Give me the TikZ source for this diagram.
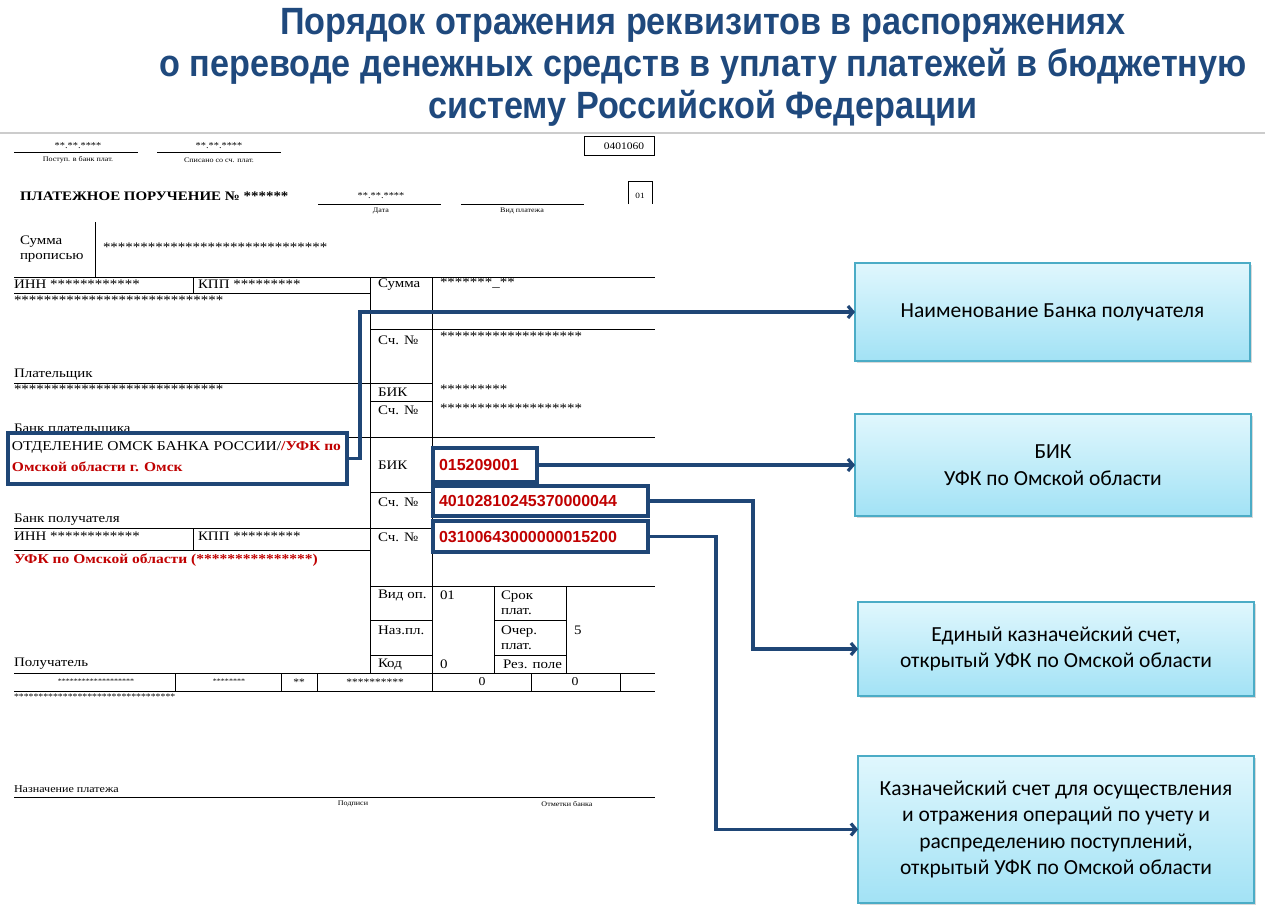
\documentclass[tikz,border=0pt]{standalone}
\usepackage{fontspec}
\setmainfont{Liberation Serif}[FakeStretch=1.15]
\newfontfamily\titlefont[FakeStretch=0.9]{Liberation Sans}
\newfontfamily\notefont{Carlito}
\newfontfamily\numfont{Liberation Sans}
\usetikzlibrary{arrows.meta,shadows}
\definecolor{titleblue}{RGB}{31,73,125}
\definecolor{frameblue}{RGB}{31,70,118}
\definecolor{formred}{RGB}{192,0,0}
\definecolor{noteedge}{RGB}{75,172,198}
\definecolor{notetop}{RGB}{224,247,253}
\definecolor{notebot}{RGB}{162,226,245}
\begin{document}
\begin{tikzpicture}[x=1pt, y=-1pt, inner sep=0pt, outer sep=0pt,
  lab/.style={anchor=west, font=\fontsize{13}{15.5}\selectfont},
  small/.style={anchor=center, font=\fontsize{7}{8}\selectfont},
  rule/.style={draw=black, line width=1pt},
  frame/.style={draw=frameblue, line width=3.4pt, fill=white},
  redbox/.style={frame, text=formred, align=left, inner xsep=6pt,
    font=\numfont\bfseries\fontsize{16}{18}\selectfont},
  redtext/.style={lab, text=formred, font=\bfseries\fontsize{13.5}{16}\selectfont},
  note/.style={draw=noteedge, line width=1.4pt, top color=notetop, bottom color=notebot,
    align=center, font=\notefont\fontsize{21.5}{26.5}\selectfont,
    drop shadow={shadow xshift=2pt, shadow yshift=-2pt, opacity=0.3}},
  link/.style={draw=frameblue, line width=3.2pt, -{Straight Barb[length=5pt,width=12pt]}}]
\useasboundingbox (0,0) rectangle (1265,920);
\node[text=titleblue, align=center, font=\titlefont\bfseries\fontsize{38}{42}\selectfont] (title) at (703,67)
  {Порядок отражения реквизитов в распоряжениях\\о переводе денежных средств в уплату платежей в бюджетную\\систему Российской Федерации};
\draw[draw=black!20, line width=2pt] (0,133) -- (1265,133);
% шапка бланка
\node[small, font=\fontsize{9}{10}\selectfont] (dt1) at (78,146) {**.**.****};
\draw[rule] (14,153) -- (138,153);
\node[small] (dt1lab) at (78,160) {Поступ. в банк плат.};
\node[small, font=\fontsize{9}{10}\selectfont] (dt2) at (219,146) {**.**.****};
\draw[rule] (157,153) -- (281,153);
\node[small] (dt2lab) at (219,160) {Списано со сч. плат.};
\node[draw, line width=1pt, minimum width=70, minimum height=19, font=\fontsize{10}{12}\selectfont, align=right] (form) at (619,146) {\hspace*{10pt}0401060};
\node[lab, font=\bfseries\fontsize{13}{15}\selectfont] (head) at (20,196) {ПЛАТЕЖНОЕ ПОРУЧЕНИЕ № ******};
\node[small, font=\fontsize{9}{10}\selectfont] (dt3) at (381,196) {**.**.****};
\draw[rule] (318,204) -- (441,204);
\node[small] (dt3lab) at (381,211) {Дата};
\draw[rule] (461,204) -- (584,204);
\node[small] (vidlab) at (522,211) {Вид платежа};
\draw[rule] (628,204) -- (628,182) -- (652,182) -- (652,204);
\node[small, font=\fontsize{8}{9}\selectfont] (status) at (640,196) {01};
% сумма прописью
\node[lab, align=left] (sumw) at (20,249) {Сумма\\прописью};
\draw[rule] (95,222) -- (95,277);
\node[lab] (sumwv) at (103,247) {******************************};
% сетка
\draw[rule] (14,277) -- (655,277);
\draw[rule] (370,277) -- (370,673);
\draw[rule] (432,277) -- (432,691);
\draw[rule] (193,277) -- (193,293);
\draw[rule] (14,293) -- (370,293);
\draw[rule] (370,329) -- (655,329);
\draw[rule] (14,383) -- (432,383);
\draw[rule] (370,401) -- (432,401);
\draw[rule] (14,437) -- (655,437);
\draw[rule] (370,492) -- (432,492);
\draw[rule] (14,528) -- (432,528);
\draw[rule] (193,528) -- (193,550);
\draw[rule] (14,550) -- (370,550);
\draw[rule] (370,586) -- (655,586);
\draw[rule] (494,586) -- (494,673);
\draw[rule] (566,586) -- (566,673);
\draw[rule] (370,620) -- (432,620) (494,620) -- (566,620);
\draw[rule] (370,655) -- (432,655) (494,655) -- (566,655);
\draw[rule] (14,673) -- (655,673);
\foreach \xx in {175,281,317,531,620}
  \draw[rule] (\xx,673) -- (\xx,691);
\draw[rule] (14,691) -- (655,691);
\draw[rule] (14,797) -- (655,797);
% плательщик
\node[lab] (inn1) at (14,284) {ИНН ************};
\node[lab] (kpp1) at (198,284) {КПП *********};
\node[lab] (payer) at (14,300) {****************************};
\node[lab] (summa) at (378,285) {Сумма};
\node[lab] (summav) at (440,283) {*******\_**};
\node[lab] (acc1) at (378,340) {Сч. №};
\node[lab] (acc1v) at (440,336) {*******************};
\node[lab] (payerlab) at (14,375) {Плательщик};
\node[lab] (pbank) at (14,389) {****************************};
\node[lab] (bik1) at (378,392) {БИК};
\node[lab] (bik1v) at (440,389) {*********};
\node[lab] (acc2) at (378,410) {Сч. №};
\node[lab] (acc2v) at (440,408) {*******************};
\node[lab] (pbanklab) at (14,430) {Банк плательщика};
% банк получателя
\node[frame, minimum width=339, minimum height=51] (bank) at (177.5,458.5) {};
\node[lab, font=\fontsize{13.5}{16}\selectfont] (bankl1) at (12,447) {ОТДЕЛЕНИЕ ОМСК БАНКА РОССИИ/\textcolor{formred}{\bfseries/УФК по}};
\node[redtext] (bankl2) at (12,467) {Омской области г. Омск};
\node[lab] (bik2) at (378,465) {БИК};
\node[redbox, minimum height=34, text width=92] (bik) at (485,465) {015209001};
\node[lab] (acc3) at (378,502) {Сч. №};
\node[redbox, minimum height=30, text width=203] (ekc) at (540.5,501) {40102810245370000044};
\node[lab] (rbanklab) at (14,520) {Банк получателя};
\node[lab] (inn2) at (14,536) {ИНН ************};
\node[lab] (kpp2) at (198,536) {КПП *********};
\node[lab] (acc4) at (378,537) {Сч. №};
\node[redbox, minimum height=31, text width=203] (kc) at (540.5,536.5) {03100643000000015200};
\node[redtext] (ufk) at (14,560) {УФК по Омской области (***************)};
% реквизиты
\node[lab] (vidop) at (378,595) {Вид оп.};
\node[lab] (vidopv) at (440,595) {01};
\node[lab, align=left] (srok) at (501,603) {Срок\\плат.};
\node[lab] (naz) at (378,630) {Наз.пл.};
\node[lab, align=left] (ocher) at (501,638) {Очер.\\плат.};
\node[lab] (ocherv) at (574,630) {5};
\node[lab] (rcvlab) at (14,664) {Получатель};
\node[lab] (kod) at (378,664) {Код};
\node[lab] (kodv) at (440,664) {0};
\node[lab] (rez) at (503,664) {Рез. поле};
\node[small] (b1) at (96,681) {*******************};
\node[small] (b2) at (229,681) {********};
\node[small, font=\fontsize{10}{11}\selectfont] (b3) at (299,682) {**};
\node[small, font=\fontsize{10}{11}\selectfont] (b4) at (375,682) {**********};
\node[small, font=\fontsize{12}{13}\selectfont] (b5) at (482,682) {0};
\node[small, font=\fontsize{12}{13}\selectfont] (b6) at (575,682) {0};
\node[lab, font=\fontsize{8.5}{10}\selectfont] (purpose) at (14,697) {*********************************};
\node[lab, font=\fontsize{10.5}{12}\selectfont] (purplab) at (14,789) {Назначение платежа};
\node[small] (sign) at (353,804) {Подписи};
\node[small] (marks) at (567,804) {Отметки банка};
% пояснения
\node[note, minimum width=395, minimum height=98] (nbank) at (1052.5,312) {Наименование Банка получателя};
\node[note, minimum width=396, minimum height=102] (nbik) at (1053,465) {БИК\\УФК по Омской области};
\node[note, minimum width=396, minimum height=94] (nekc) at (1056,649) {Единый казначейский счет,\\открытый УФК по Омской области};
\node[note, minimum width=396, minimum height=147] (nkc) at (1056,829.5) {Казначейский счет для осуществления\\и отражения операций по учету и\\распределению поступлений,\\открытый УФК по Омской области};
\draw[link] (bank.east) -- ++(13,0) |- (nbank.west);
\draw[link] (bik.east) -- (nbik.west);
\draw[link] (ekc.east) -- ++(105,0) |- (nekc.west);
\draw[link] (kc.east) -- ++(68,0) |- (nkc.west);
\end{tikzpicture}
\end{document}
